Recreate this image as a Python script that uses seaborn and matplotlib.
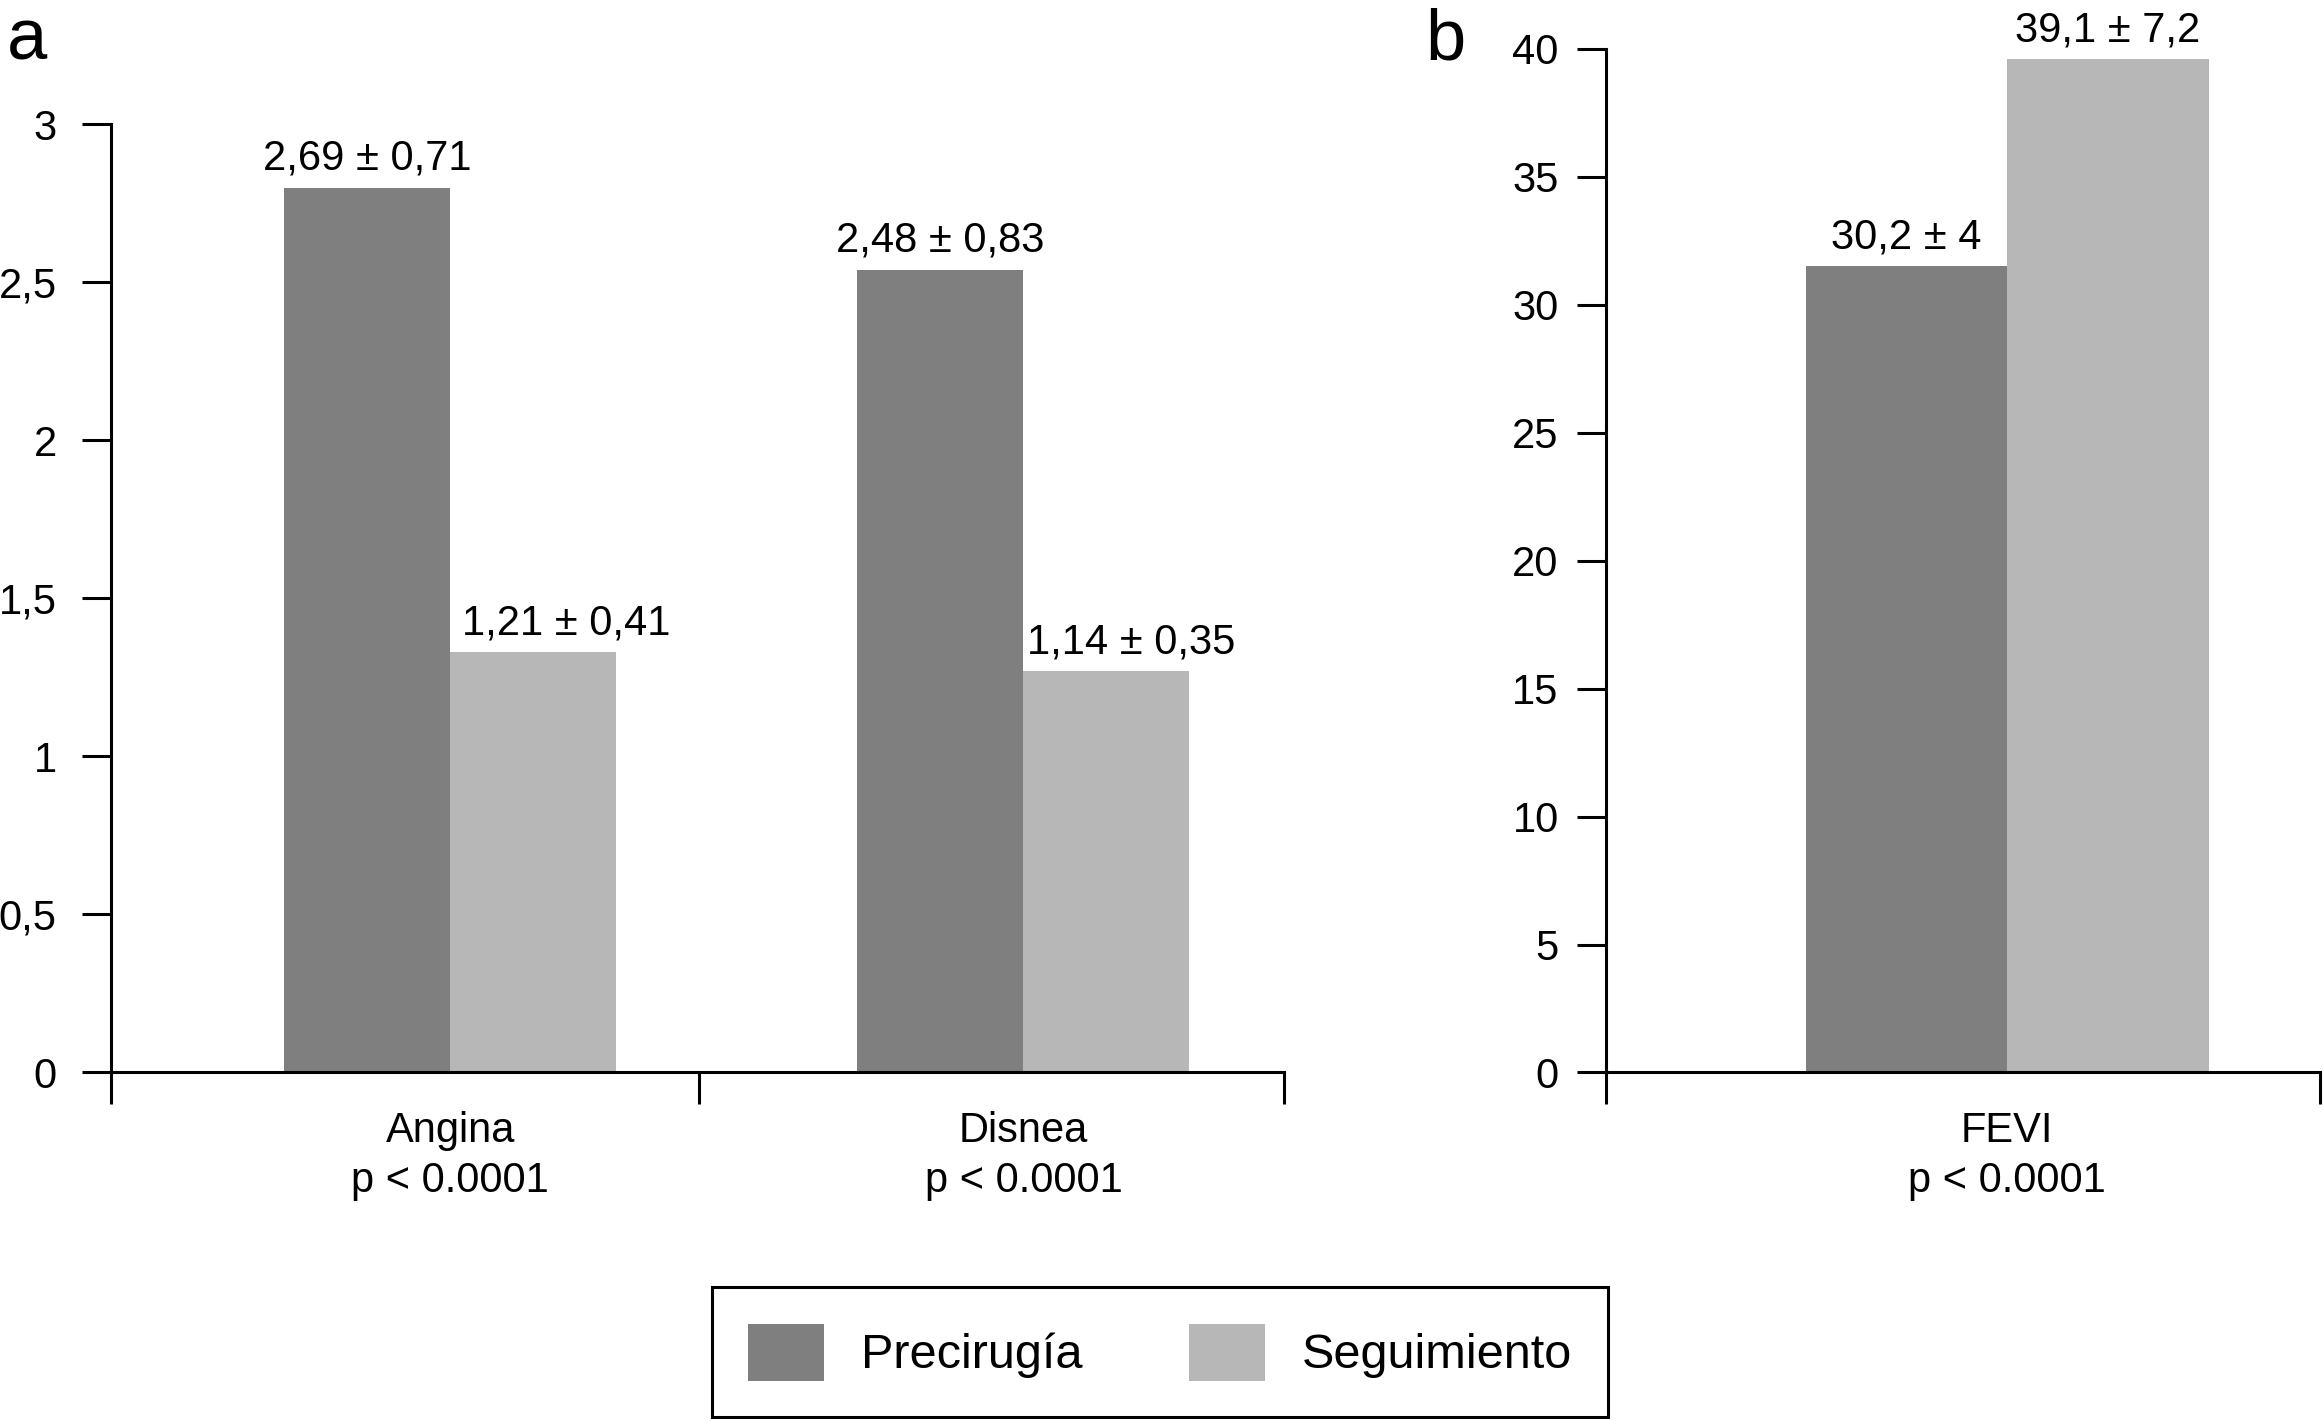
import matplotlib
matplotlib.use("Agg")
import matplotlib.pyplot as plt
from matplotlib.patches import Patch
from matplotlib.ticker import FixedLocator
import seaborn as sns
import pandas as pd

sns.set_style("white")
plt.rcParams['font.family'] = ['Liberation Sans', 'DejaVu Sans']
plt.rcParams.update({
    'text.color': 'black', 'axes.labelcolor': 'black',
    'xtick.color': 'black', 'ytick.color': 'black',
})

# ── 資料 ────────────────────────────────────────────────────────────────────
GROUPS = ["Precirugía", "Seguimiento"]
COLORS = ["#7f7f7f", "#b7b7b7"]

sym_cats   = ["Angina\np < 0.0001", "Disnea\np < 0.0001"]
sym_pre    = [2.80, 2.54]
sym_seg    = [1.33, 1.27]
sym_labels = [["2,69 ± 0,71", "2,48 ± 0,83"], ["1,21 ± 0,41", "1,14 ± 0,35"]]
sym_yticks = [0, 0.5, 1, 1.5, 2, 2.5, 3]
sym_ytlab  = ["0", "0,5", "1", "1,5", "2", "2,5", "3"]

fevi_cats   = ["FEVI\np < 0.0001"]
fevi_pre    = [31.5]
fevi_seg    = [39.6]
fevi_labels = [["30,2 ± 4"], ["39,1 ± 7,2"]]
fevi_yticks = [0, 5, 10, 15, 20, 25, 30, 35, 40]

# desplazamiento horizontal de las etiquetas (pt)
sym_dx  = [[0, 0], [24, 18]]
fevi_dx = [[0], [0]]

FS = 30
LW = 2.2


def build(cats, pre, seg):
    return pd.DataFrame({
        "cat":   cats * 2,
        "val":   pre + seg,
        "grupo": [GROUPS[0]] * len(cats) + [GROUPS[1]] * len(cats),
    })


def panel(ax, df, labels, dx, yticks, ytlab, ylim, ypad, xlim, bounds, width):
    sns.barplot(data=df, x="cat", y="val", hue="grupo", hue_order=GROUPS,
                palette=COLORS, width=width, saturation=1, ax=ax,
                legend=False, errorbar=None, linewidth=0)
    ax.set_xlim(*xlim)
    ax.set_ylim(*ylim)
    ax.set_xlabel(""); ax.set_ylabel("")
    ax.set_yticks(yticks)
    ax.set_yticklabels(ytlab)
    for s in ["top", "right"]:
        ax.spines[s].set_visible(False)
    for s in ["left", "bottom"]:
        ax.spines[s].set_linewidth(LW)
        ax.spines[s].set_color("black")
    ax.tick_params(axis="y", direction="out", length=21, width=LW,
                   labelsize=FS, pad=ypad, left=True)
    ax.tick_params(axis="x", which="major", length=0, labelsize=FS, pad=28)
    for t in ax.get_xticklabels():
        t.set_linespacing(1.3)
    ax.xaxis.set_minor_locator(FixedLocator(bounds))
    ax.tick_params(axis="x", which="minor", direction="out", length=23,
                   width=LW, bottom=True)
    for h, cont in enumerate(ax.containers):
        for j, bar in enumerate(cont):
            ax.annotate(labels[h][j],
                        xy=(bar.get_x() + bar.get_width() / 2, bar.get_height()),
                        xytext=(dx[h][j], 13), textcoords="offset points",
                        ha="center", va="baseline", fontsize=FS)


fig = plt.figure(figsize=(23.23, 14.22), dpi=100)
ax1 = fig.add_axes([0.0478, 0.2458, 0.505, 0.6667])
ax2 = fig.add_axes([0.6913, 0.2458, 0.3074, 0.7198])

panel(ax1, build(sym_cats, sym_pre, sym_seg), sym_labels, sym_dx,
      sym_yticks, sym_ytlab, (0, 3), 18,
      (-0.592, 1.455), [-0.592, 0.434, 1.455], 0.579)
panel(ax2, build(fevi_cats, fevi_pre, fevi_seg), fevi_labels, fevi_dx,
      fevi_yticks, [str(v) for v in fevi_yticks], (0, 40), 13,
      (-0.562, 0.438), [-0.562, 0.438], 0.564)

fig.text(0.003, 0.958, "a", fontsize=52, va="baseline", ha="left")
fig.text(0.6135, 0.958, "b", fontsize=52, va="baseline", ha="left")

handles = [Patch(facecolor=c, edgecolor="none", label=g) for c, g in zip(COLORS, GROUPS)]
leg = fig.legend(handles=handles, loc="center", bbox_to_anchor=(0.4994, 0.049),
                 ncol=2, fontsize=35, frameon=True, fancybox=False,
                 edgecolor="black", framealpha=1, borderpad=0.75,
                 handlelength=1.55, handleheight=1.43, handletextpad=0.76,
                 columnspacing=2.2, borderaxespad=0)
leg.get_frame().set_linewidth(LW)

fig.savefig("out.png", dpi=100)
plt.close(fig)
